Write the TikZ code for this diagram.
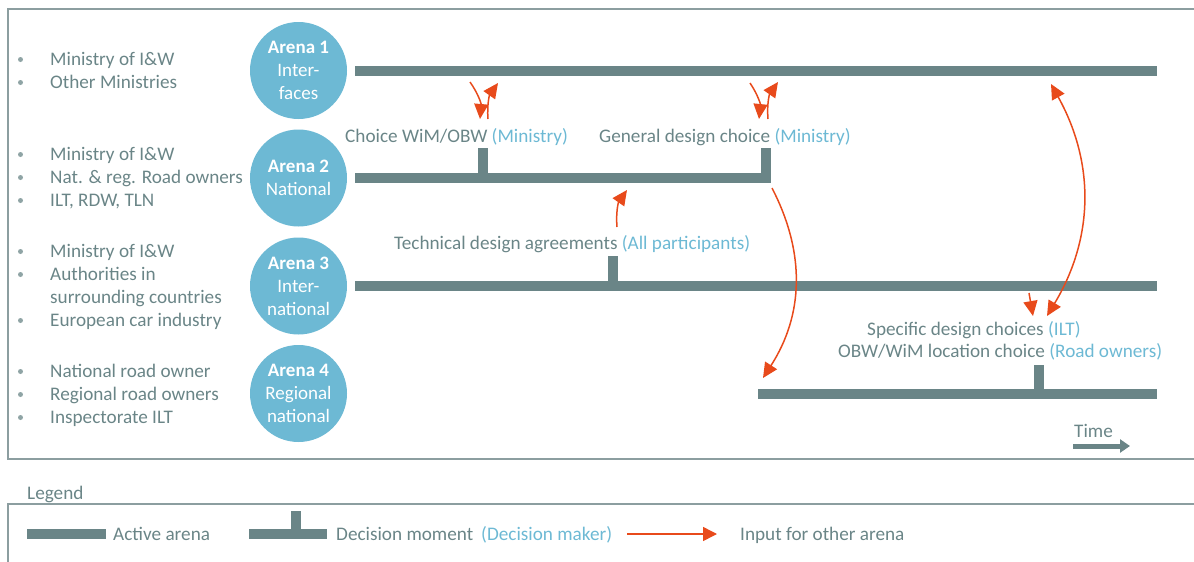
\documentclass[tikz,border=0pt]{standalone}
\usepackage{fontspec}
\setmainfont{Carlito}
\usepackage{xcolor}
\usetikzlibrary{arrows.meta,positioning}
\definecolor{slategray}{RGB}{106,133,135}
\definecolor{arenablue}{RGB}{109,185,212}
\definecolor{inputred}{RGB}{232,74,27}
\definecolor{panelgray}{RGB}{140,158,160}

\begin{document}
\begin{tikzpicture}[x=1pt, y=1pt,
    arena/.style={circle, fill=arenablue, minimum size=97pt, inner sep=0pt, align=center, text=white, font=\fontsize{19}{23}\selectfont},
    member/.style={anchor=base west, inner sep=0pt, text=slategray, font=\fontsize{19.2}{23}\selectfont},
    dot/.style={circle, fill=slategray!75, minimum size=5pt, inner sep=0pt},
    choice/.style={anchor=base west, inner sep=0pt, text=slategray, font=\fontsize{19.2}{23}\selectfont},
    bar/.style={slategray, line width=10pt},
    moment/.style={slategray, line width=10pt},
    input/.style={-{Triangle[length=15pt,width=14pt]}, inputred, line width=1.5pt},
    panel/.style={draw=panelgray, line width=1.5pt}
  ]
    \useasboundingbox (0,0) rectangle (1194,-562);

    % Frames
    \draw[panel] (8,-9) rectangle (1220,-459);
    \draw[panel] (8,-504) rectangle (1220,-620);

    % Arenas
    \node[arena] (arena1) at (298.5,-70.5) {\textbf{Arena 1}\\Inter-\\faces};
    \node[arena] (arena2) at (298.5,-178) {\textbf{Arena 2}\\National};
    \node[arena] (arena3) at (298.5,-286) {\textbf{Arena 3}\\Inter-\\national};
    \node[arena] (arena4) at (298.5,-393.5) {\textbf{Arena 4}\\Regional\\national};

    % Participants
    \node[dot] (d1a) at (20.5,-59.5) {};
    \node[member] (m1a) at (50,-65) {Ministry of I\&W};
    \node[dot] (d1b) at (20.5,-82.5) {};
    \node[member] (m1b) at (50,-88) {Other Ministries};

    \node[dot] (d2a) at (20.5,-154.5) {};
    \node[member] (m2a) at (50,-160) {Ministry of I\&W};
    \node[dot] (d2b) at (20.5,-177.5) {};
    \node[member] (m2b) at (50,-183) {Nat. \& reg. Road owners};
    \node[dot] (d2c) at (20.5,-200.5) {};
    \node[member] (m2c) at (50,-206) {ILT, RDW, TLN};

    \node[dot] (d3a) at (20.5,-251.5) {};
    \node[member] (m3a) at (50,-257) {Ministry of I\&W};
    \node[dot] (d3b) at (20.5,-274.5) {};
    \node[member] (m3b) at (50,-280) {Authorities in};
    \node[member] (m3c) at (50,-303) {surrounding countries};
    \node[dot] (d3d) at (20.5,-320.5) {};
    \node[member] (m3d) at (50,-326) {European car industry};

    \node[dot] (d4a) at (20.5,-371.5) {};
    \node[member] (m4a) at (50,-377) {National road owner};
    \node[dot] (d4b) at (20.5,-394.5) {};
    \node[member] (m4b) at (50,-400) {Regional road owners};
    \node[dot] (d4c) at (20.5,-417.5) {};
    \node[member] (m4c) at (50,-423) {Inspectorate ILT};

    % Timelines
    \coordinate (end1) at (1157,-70.5);
    \coordinate (end2) at (771,-178);
    \coordinate (end3) at (1157,-286);
    \coordinate (start4) at (758,-393.5);
    \coordinate (end4) at (1157,-393.5);
    \draw[bar] ([xshift=8pt]arena1.east) -- (end1);
    \draw[bar] ([xshift=8pt]arena2.east) -- (end2);
    \draw[bar] ([xshift=8pt]arena3.east) -- (end3);
    \draw[bar] (start4) -- (end4);

    % Decision moments
    \coordinate (wim) at (483,-148);
    \coordinate (general) at (766,-148);
    \coordinate (technical) at (613,-256);
    \coordinate (specific) at (1039,-365);
    \draw[moment] (wim) -- ++(0,-30);
    \draw[moment] (general) -- ++(0,-30);
    \draw[moment] (technical) -- ++(0,-30);
    \draw[moment] (specific) -- ++(0,-28.5);

    \node[choice] (wimtext) at (345,-142) {Choice WiM/OBW \textcolor{arenablue}{(Ministry)}};
    \node[choice] (generaltext) at (599,-142) {General design choice \textcolor{arenablue}{(Ministry)}};
    \node[choice] (technicaltext) at (394,-249) {Technical design agreements \textcolor{arenablue}{(All participants)}};
    \node[choice] (specifictext) at (867,-335) {Specific design choices \textcolor{arenablue}{(ILT)}};
    \node[choice] (locationtext) at (838,-357) {OBW/WiM location choice \textcolor{arenablue}{(Road owners)}};

    % Inputs between arenas
    \coordinate (a1s) at (470,-82);   \coordinate (a1e) at (480,-119);
    \coordinate (a2s) at (488,-119);  \coordinate (a2e) at (498,-83);
    \coordinate (a3s) at (750,-83);   \coordinate (a3e) at (759,-119);
    \coordinate (a4s) at (768,-119);  \coordinate (a4e) at (778,-82);
    \coordinate (a5s) at (617,-227);  \coordinate (a5e) at (627,-190);
    \coordinate (a6s) at (772,-188);  \coordinate (a6e) at (763,-378);
    \coordinate (a7s) at (1051,-84);  \coordinate (a7e) at (1047,-316);
    \coordinate (a8s) at (1029,-293); \coordinate (a8e) at (1033,-316);
    \draw[input] (a1s) to[bend left=20] (a1e);
    \draw[input] (a2s) to[bend left=20] (a2e);
    \draw[input] (a3s) to[bend left=20] (a3e);
    \draw[input] (a4s) to[bend left=20] (a4e);
    \draw[input] (a5s) to[bend left=20] (a5e);
    \draw[input] (a6s) to[bend left=30] (a6e);
    \draw[input, {Triangle[length=15pt,width=14pt]}-{Triangle[length=15pt,width=14pt]}] (a7s) to[bend left=30] (a7e);
    \draw[input] (a8s) -- (a8e);

    % Time
    \node[choice] (time) at (1074,-437) {Time};
    \coordinate (time0) at (1073,-446);
    \coordinate (time1) at (1130,-446);
    \draw[slategray, line width=5pt, -{Triangle[length=10pt,width=13pt]}] (time0) -- (time1);

    % Legend
    \node[choice] (legend) at (27,-499) {Legend};
    \coordinate (leg1a) at (27,-534);  \coordinate (leg1b) at (106,-534);
    \coordinate (leg2a) at (249,-534); \coordinate (leg2b) at (327,-534);
    \coordinate (leg2t) at (296,-511);
    \coordinate (leg3a) at (627,-534); \coordinate (leg3b) at (717,-534);
    \draw[bar] (leg1a) -- (leg1b);
    \node[choice] (active) at (113,-540) {Active arena};
    \draw[bar] (leg2a) -- (leg2b);
    \draw[moment] (leg2t) -- ++(0,-23);
    \node[choice] (decision) at (336,-540) {Decision moment};
    \node[choice, text=arenablue] (maker) at (481,-540) {(Decision maker)};
    \draw[input, -{Triangle[length=14pt,width=14pt]}] (leg3a) -- (leg3b);
    \node[choice] (other) at (740,-540) {Input for other arena};
  \end{tikzpicture}
\end{document}
